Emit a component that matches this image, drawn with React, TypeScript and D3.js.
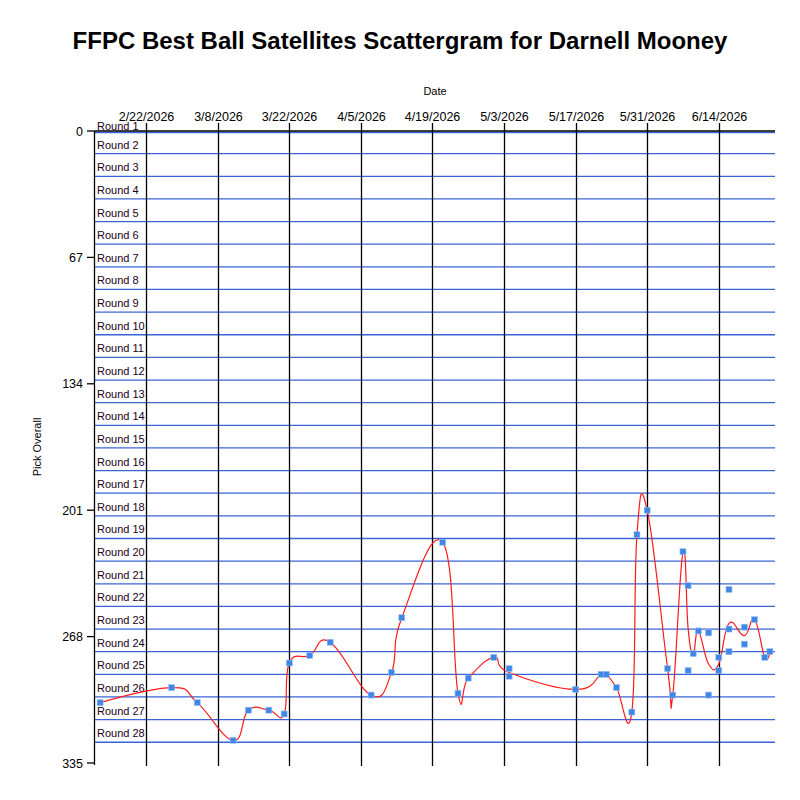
import React from "react";
import * as d3 from "d3";

const chartTitle = "FFPC Best Ball Satellites Scattergram for Darnell Mooney";

// each pick: draft date and overall pick number
const pickDates = [
  "2026-02-13", "2026-02-27", "2026-03-04", "2026-03-11", "2026-03-14", "2026-03-18",
  "2026-03-21", "2026-03-22", "2026-03-26", "2026-03-30", "2026-04-07", "2026-04-11",
  "2026-04-13", "2026-04-21", "2026-04-24", "2026-04-26", "2026-05-01", "2026-05-04",
  "2026-05-04", "2026-05-17", "2026-05-22", "2026-05-23", "2026-05-25", "2026-05-28",
  "2026-05-29", "2026-05-31", "2026-06-04", "2026-06-05", "2026-06-07", "2026-06-08",
  "2026-06-08", "2026-06-09", "2026-06-10", "2026-06-12", "2026-06-12", "2026-06-14",
  "2026-06-14", "2026-06-16", "2026-06-16", "2026-06-16", "2026-06-19", "2026-06-19",
  "2026-06-21", "2026-06-23", "2026-06-24",
];
const pickOverall = [
  303, 295, 303, 323, 307, 307,
  309, 282, 278, 271, 299, 287,
  258, 218, 298, 290, 279, 285,
  289, 296, 288, 288, 295, 308,
  214, 201, 285, 299, 223, 241,
  286, 277, 265, 266, 299, 279,
  286, 243, 264, 276, 263, 272,
  259, 279, 276,
];

const dateTicks = [
  "2026-02-22", "2026-03-08", "2026-03-22", "2026-04-05", "2026-04-19",
  "2026-05-03", "2026-05-17", "2026-05-31", "2026-06-14",
];
const pickTicks = [0, 67, 134, 201, 268, 335];
const roundCount = 28;
const teamsPerRound = 12;

const parse = d3.timeParse("%Y-%m-%d");
const fmt = d3.timeFormat("%-m/%-d/%Y");

const W = 800;
const H = 800;
const left = 95;
const right = 775;
const top = 131;
const bottom = 763;

export default function App() {
  const x = d3.scaleTime().domain([parse("2026-02-12")!, parse("2026-06-25")!]).range([left, right]);
  const y = d3.scaleLinear().domain([0, 335]).range([top, bottom]);

  const pts = pickDates.map((d, i) => ({ date: parse(d)!, pick: pickOverall[i] }));

  // trend line through the daily average
  const daily = d3
    .rollups(pts, (v) => d3.mean(v, (p) => p.pick)!, (p) => +p.date)
    .map(([t, m]) => ({ date: new Date(t), pick: m }))
    .sort((a, b) => +a.date - +b.date);

  const line = d3
    .line<{ date: Date; pick: number }>()
    .x((d) => x(d.date))
    .y((d) => y(d.pick))
    .curve(d3.curveCardinal.tension(-0.3));

  const roundLines = d3.range(0, roundCount).map((k) => k * teamsPerRound);
  const font = "'Liberation Sans', Arial, sans-serif";

  return (
    <svg width={W} height={H} style={{ position: "absolute", left: 0, top: 0, background: "#fff" }} fontFamily={font}>
      <text x={400} y={49} textAnchor="middle" fontSize={24} fontWeight="bold">
        {chartTitle}
      </text>
      <text x={(left + right) / 2} y={95} textAnchor="middle" fontSize={11}>
        Date
      </text>
      <text transform={`translate(41,${(top + bottom) / 2}) rotate(-90)`} textAnchor="middle" fontSize={11}>
        Pick Overall
      </text>

      {roundLines.map((p) => (
        <line key={"r" + p} x1={left} x2={right} y1={y(p) + (p === 0 ? 1.5 : 0)} y2={y(p) + (p === 0 ? 1.5 : 0)} stroke="#3a63d8" strokeWidth={1.3} />
      ))}
      {d3.range(1, roundCount + 1).map((k) => (
        <text key={"t" + k} x={97} y={Math.max(y((k - 1) * teamsPerRound) - 5, top - 1)} fontSize={11} fill="#1a001a">
          {"Round " + k}
        </text>
      ))}

      {dateTicks.map((d) => {
        const xx = Math.round(x(parse(d)!)) + 0.5;
        return (
          <g key={d}>
            <line x1={xx} x2={xx} y1={top - 8} y2={bottom + 3} stroke="#000" strokeWidth={1.3} />
            <text x={xx} y={121} textAnchor="middle" fontSize={12.5}>
              {fmt(parse(d)!)}
            </text>
          </g>
        );
      })}

      <line x1={left} x2={right} y1={top} y2={top} stroke="#000" strokeWidth={1.3} />
      <line x1={left - 0.5} x2={left - 0.5} y1={top} y2={bottom + 2} stroke="#000" strokeWidth={1.3} />
      {pickTicks.map((p) => (
        <g key={"p" + p}>
          <line x1={left - 8} x2={left} y1={y(p)} y2={y(p)} stroke="#000" strokeWidth={1.3} />
          <text x={83} y={y(p) + 4.5} textAnchor="end" fontSize={12.5}>
            {p}
          </text>
        </g>
      ))}

      <path d={line(daily)!} fill="none" stroke="#ff1a1a" strokeWidth={1.2} />
      {pts.map((p, i) => (
        <rect key={i} x={x(p.date) - 3} y={y(p.pick) - 3} width={6} height={6} fill="#3f86e6" stroke="#9cc3f3" strokeWidth={0.6} />
      ))}
    </svg>
  );
}
